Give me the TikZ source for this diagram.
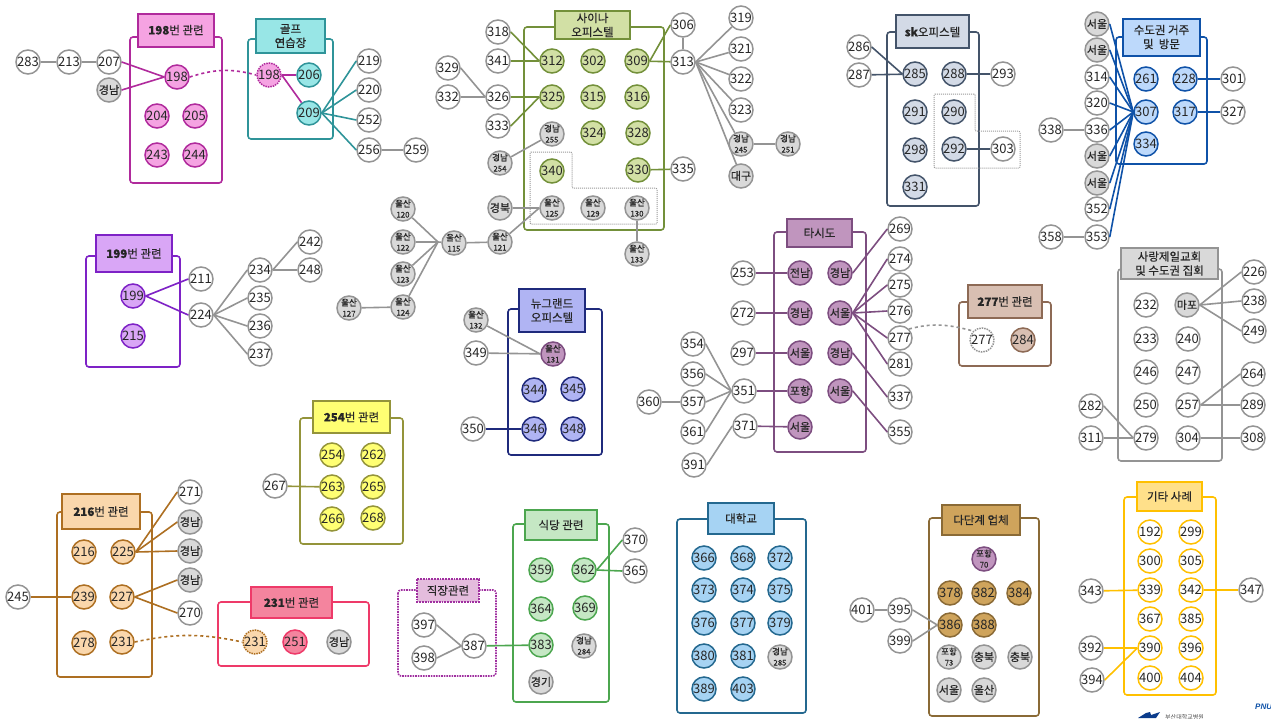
\documentclass[tikz,border=0pt]{standalone}
\usepackage{fontspec}
\setmainfont{Noto Sans CJK KR}
\newfontfamily\hvy[FakeBold=0.35]{Noto Sans CJK KR}
\newfontfamily\pnuf{Liberation Sans}
\newcommand{\NT}[1]{\makebox[0pt]{\raisebox{-.37em}[0pt][0pt]{#1}}}
\newcommand{\TW}[2]{\makebox[0pt]{\raisebox{-8.5pt}[0pt][0pt]{\shortstack{\hvy\fontsize{8.5}{8.5}\selectfont #1\\[1.5pt]\hvy\fontsize{7.8}{8}\selectfont #2}}}}
\newcommand{\N}[5]{\node[cn,#1] (#2) at (#3) {\NT{#5}};}
\newcommand{\M}[5]{\node[cn,#1] (#2) at (#3) {\TW{#4}{#5}};}
\definecolor{gl}{HTML}{949494}
\definecolor{grf}{HTML}{D9D9D9}
\definecolor{pkF}{HTML}{F5A3E2}\definecolor{pkD}{HTML}{B02A9C}
\definecolor{tlF}{HTML}{98E6E6}\definecolor{tlD}{HTML}{2F9499}
\definecolor{olF}{HTML}{D2E0A5}\definecolor{olD}{HTML}{73903A}
\definecolor{skF}{HTML}{D3DAE6}\definecolor{skD}{HTML}{44546A}
\definecolor{buF}{HTML}{BDD9FB}\definecolor{buD}{HTML}{0F52A8}
\definecolor{txF}{HTML}{C095BE}\definecolor{txD}{HTML}{7D4E80}
\definecolor{brF}{HTML}{D8BFB2}\definecolor{brD}{HTML}{8D6A55}
\definecolor{ppF}{HTML}{D9A6F6}\definecolor{ppD}{HTML}{7E22C6}
\definecolor{ngF}{HTML}{B0B4F3}\definecolor{ngD}{HTML}{1F2A7C}
\definecolor{ylF}{HTML}{FFFF73}\definecolor{ylD}{HTML}{94943A}
\definecolor{orF}{HTML}{FAD7AC}\definecolor{orD}{HTML}{AD6F22}
\definecolor{rdF}{HTML}{F4849E}\definecolor{rdD}{HTML}{EE3A69}
\definecolor{wkF}{HTML}{E4BCDD}\definecolor{wkD}{HTML}{A030A0}
\definecolor{grnF}{HTML}{C5E7C4}\definecolor{grnD}{HTML}{4CA64F}
\definecolor{unF}{HTML}{A6D3F3}\definecolor{unD}{HTML}{24688F}
\definecolor{mlF}{HTML}{CFA45C}\definecolor{mlD}{HTML}{8A6A36}
\definecolor{etF}{HTML}{FFE08A}\definecolor{etD}{HTML}{FFC000}
\definecolor{lgB}{HTML}{0B3C8C}
\tikzset{
 x=1pt,y=-1pt,
 cn/.style={circle,draw=gl,fill=white,line width=1.5pt,minimum size=24pt,inner sep=0pt,text=black!85,font=\fontsize{13}{13}\selectfont},
 wh/.style={draw=gl,fill=white},
 gr/.style={draw=gl,fill=grf,font=\hvy\fontsize{11}{11}\selectfont},
 pk/.style={draw=pkD,fill=pkF}, tl/.style={draw=tlD,fill=tlF},
 ol/.style={draw=olD,fill=olF}, sk/.style={draw=skD,fill=skF},
 bu/.style={draw=buD,fill=buF}, tx/.style={draw=txD,fill=txF,font=\hvy\fontsize{11}{11}\selectfont},
 br/.style={draw=brD,fill=brF}, pp/.style={draw=ppD,fill=ppF},
 ng/.style={draw=ngD,fill=ngF}, yl/.style={draw=ylD,fill=ylF},
 orr/.style={draw=orD,fill=orF}, rd/.style={draw=rdD,fill=rdF},
 grn/.style={draw=grnD,fill=grnF}, un/.style={draw=unD,fill=unF},
 ml/.style={draw=mlD,fill=mlF}, et/.style={draw=etD,fill=white},
 dot/.style={densely dotted},
 frame/.style={draw=#1,line width=1.6pt,rounded corners=3pt,fill=white},
 ttl/.style={rectangle,line width=1.8pt,inner sep=0pt,align=center,text=black!85,font=\hvy\fontsize{11.5}{14}\selectfont},
 gline/.style={draw=gl,line width=1.6pt},
 cline/.style={draw=#1,line width=1.6pt},
 dotreg/.style={draw=gray!80,line width=1pt,densely dotted},
}
\begin{document}
\begin{tikzpicture}
\useasboundingbox (0,0) rectangle (1271,718);
\clip (0,0) rectangle (1271,718);
\newcommand{\FR}[6]{\draw[frame=#1,#6] (#2,#3) rectangle (#4,#5);}
\newcommand{\TB}[7][]{\path[ttl,draw=#2,fill=#3,#1] (#4,#5) rectangle (#6,#7);}
\newcommand{\TL}[4]{\node[ttl] (#1) at (#2,#3) {#4};}
% frames and titles
\FR{pkD}{130}{37}{222}{183}{}\TB{pkD}{pkF}{138}{14}{214}{47}\TL{t198}{176}{30}{\textbf{198}번 관련}
\FR{tlD}{248}{39}{333}{139}{}\TB{tlD}{tlF}{256}{19}{325}{53}\TL{tgolf}{290.5}{36}{골프\\연습장}
\FR{olD}{524}{27}{664}{230}{}\TB{olD}{olF}{555}{11}{630}{39}\TL{tsaina}{592.5}{25}{사이나\\오피스텔}
\FR{skD}{887}{32}{979}{206}{}\TB{skD}{skF}{896}{15}{969}{48}\TL{tsk}{932.5}{32}{\textbf{sk}오피스텔}
\FR{buD}{1116}{37}{1207}{164}{}\TB{buD}{buF}{1123}{19}{1200}{56}\TL{tsudo}{1161.5}{37}{수도권 거주\\및 ~방문}
\FR{txD}{774}{232}{866}{452}{}\TB{txD}{txF}{787}{219}{852}{247}\TL{ttaxi}{819.5}{233}{타시도}
\FR{brD}{959}{302}{1051}{366}{}\TB{brD}{brF}{968}{285}{1042}{318}\TL{t277}{1005}{301.5}{\textbf{277}번 관련}
\FR{gl}{1118}{269}{1222}{461}{}\TB{gl}{grf}{1121}{248}{1218}{279}\TL{tchurch}{1169.5}{263.5}{사랑제일교회\\및 수도권 집회}
\FR{ppD}{86}{256}{180}{367}{}\TB{ppD}{ppF}{96}{235}{172}{272}\TL{t199}{134}{253.5}{\textbf{199}번 관련}
\FR{ngD}{508}{309}{602}{455}{}\TB{ngD}{ngF}{519}{289}{585}{332}\TL{tng}{552}{310.5}{뉴그랜드\\오피스텔}
\FR{ylD}{300}{418}{403}{544}{}\TB{ylD}{ylF}{313}{401}{390}{433}\TL{t254}{351.5}{417}{\textbf{254}번 관련}
\FR{orD}{57}{512}{152}{677}{}\TB{orD}{orF}{62}{494}{140}{529}\TL{t216}{101}{511.5}{\textbf{216}번 관련}
\FR{rdD}{218}{602}{369}{666}{}\TB{rdD}{rdF}{251}{587}{332}{618}\TL{t231}{291.5}{602.5}{\textbf{231}번 관련}
\FR{wkD}{398}{590}{496}{676}{dot}\TB[dot]{wkD}{wkF}{417}{579}{479}{602}\TL{twk}{448}{590.5}{직장관련}
\FR{grnD}{513}{524}{609}{702}{}\TB{grnD}{grnF}{525}{510}{597}{540}\TL{tfood}{561}{525}{식당 관련}
\FR{unD}{677}{519}{806}{713}{}\TB{unD}{unF}{708}{503}{774}{534}\TL{tuni}{741}{518.5}{대학교}
\FR{mlD}{929}{518}{1039}{716}{}\TB{mlD}{mlF}{942}{505}{1020}{535}\TL{tml}{981}{520}{다단계 업체}
\FR{etD}{1124}{497}{1216}{695}{}\TB{etD}{etF}{1137}{482}{1202}{511}\TL{tet}{1169.5}{496.5}{기타 사례}
% dotted regions
\draw[dotreg,rounded corners=1pt] (530,152)--(572,152)--(572,188)--(657,188)--(657,224)--(530,224)--cycle;
\draw[dotreg,rounded corners=1pt] (934,94)--(975,94)--(975,131)--(1020,131)--(1020,168)--(934,168)--cycle;
% nodes: 198 group
\N{wh}{a283}{28,62}{}{283}\N{wh}{a213}{69,62}{}{213}\N{wh}{a207}{109,62}{}{207}\N{gr}{aGN}{109,90}{}{경남}
\N{pk}{a198}{177,77}{}{198}\N{pk}{a204}{157,116}{}{204}\N{pk}{a205}{195,116}{}{205}\N{pk}{a243}{157,155}{}{243}\N{pk}{a244}{195,155}{}{244}
% golf
\N{pk,dot}{b198}{269,75}{}{198}\N{tl}{b206}{309,75}{}{206}\N{tl}{b209}{309,113}{}{209}
\N{wh}{b219}{369,61}{}{219}\N{wh}{b220}{369,90}{}{220}\N{wh}{b252}{369,120}{}{252}\N{wh}{b256}{369,150}{}{256}\N{wh}{b259}{416,150}{}{259}
% ulsan
\M{gr}{u120}{403,209}{울산}{120}\M{gr}{u122}{403,242}{울산}{122}\M{gr}{u123}{403,274}{울산}{123}\M{gr}{u124}{403,307}{울산}{124}\M{gr}{u127}{349,308}{울산}{127}
\M{gr}{u115}{454,243}{울산}{115}\M{gr}{u121}{500,242}{울산}{121}
\M{gr}{u125}{552,208}{울산}{125}\M{gr}{u129}{593,208}{울산}{129}\M{gr}{u130}{637,208}{울산}{130}\M{gr}{u133}{637,254}{울산}{133}
\N{gr}{cGB}{500,208}{}{경북}
% saina
\N{wh}{c318}{498,32}{}{318}\N{wh}{c341}{498,61}{}{341}\N{wh}{c329}{448,68}{}{329}\N{wh}{c332}{448,97}{}{332}\N{wh}{c326}{498,97}{}{326}\N{wh}{c333}{498,126}{}{333}
\M{gr}{c254}{500,163}{경남}{254}\M{gr}{c255}{552,134}{경남}{255}
\N{ol}{c312}{552,61}{}{312}\N{ol}{c302}{593,61}{}{302}\N{ol}{c309}{637,61}{}{309}
\N{ol}{c325}{552,97}{}{325}\N{ol}{c315}{593,97}{}{315}\N{ol}{c316}{637,97}{}{316}
\N{ol}{c324}{593,133}{}{324}\N{ol}{c328}{638,133}{}{328}\N{ol}{c340}{552,171}{}{340}\N{ol}{c330}{638,170}{}{330}
\N{wh}{c335}{683,169}{}{335}\N{wh}{c306}{683,25}{}{306}\N{wh}{c313}{683,62}{}{313}
\N{wh}{c319}{741,18}{}{319}\N{wh}{c321}{741,49}{}{321}\N{wh}{c322}{741,79}{}{322}\N{wh}{c323}{741,110}{}{323}
\M{gr}{c245}{741,144}{경남}{245}\M{gr}{c251}{788,144}{경남}{251}\N{gr}{cDG}{741,176}{}{대구}
% sk
\N{wh}{d286}{859,47}{}{286}\N{wh}{d287}{859,75}{}{287}\N{sk}{d285}{915,74}{}{285}\N{sk}{d288}{954,74}{}{288}\N{wh}{d293}{1003,74}{}{293}
\N{sk}{d291}{915,112}{}{291}\N{sk}{d290}{954,112}{}{290}\N{sk}{d298}{915,150}{}{298}\N{sk}{d292}{954,149}{}{292}\N{wh}{d303}{1003,149}{}{303}\N{sk}{d331}{915,187}{}{331}
% sudo
\N{gr}{eS1}{1097,24}{}{서울}\N{gr}{eS2}{1097,50}{}{서울}\N{wh}{e314}{1097,77}{}{314}\N{wh}{e320}{1097,103}{}{320}\N{wh}{e336}{1097,130}{}{336}\N{wh}{e338}{1051,130}{}{338}
\N{gr}{eS3}{1097,156}{}{서울}\N{gr}{eS4}{1097,183}{}{서울}\N{wh}{e352}{1097,209}{}{352}\N{wh}{e353}{1097,237}{}{353}\N{wh}{e358}{1051,237}{}{358}
\N{bu}{e261}{1146,79}{}{261}\N{bu}{e228}{1185,79}{}{228}\N{wh}{e301}{1233,79}{}{301}\N{bu}{e307}{1146,112}{}{307}\N{bu}{e317}{1185,112}{}{317}\N{wh}{e327}{1233,112}{}{327}\N{bu}{e334}{1146,144}{}{334}
% taxi
\N{tx}{f1}{800,273}{}{전남}\N{tx}{f2}{840,273}{}{경남}\N{tx}{f3}{800,313}{}{경남}\N{tx}{f4}{840,313}{}{서울}\N{tx}{f5}{800,353}{}{서울}\N{tx}{f6}{840,353}{}{경남}\N{tx}{f7}{800,391}{}{포항}\N{tx}{f8}{840,391}{}{서울}\N{tx}{f9}{800,427}{}{서울}
\N{wh}{f253}{743,273}{}{253}\N{wh}{f272}{743,313}{}{272}\N{wh}{f297}{743,353}{}{297}\N{wh}{f351}{744,391}{}{351}\N{wh}{f371}{745,426}{}{371}
\N{wh}{f354}{693,344}{}{354}\N{wh}{f356}{693,374}{}{356}\N{wh}{f357}{693,402}{}{357}\N{wh}{f360}{649,402}{}{360}\N{wh}{f361}{693,432}{}{361}\N{wh}{f391}{694,465}{}{391}
\N{wh}{f269}{900,229}{}{269}\N{wh}{f274}{900,259}{}{274}\N{wh}{f275}{900,285}{}{275}\N{wh}{f276}{900,311}{}{276}\N{wh}{f277}{900,338}{}{277}\N{wh}{f281}{900,364}{}{281}\N{wh}{f337}{900,397}{}{337}\N{wh}{f355}{900,432}{}{355}
% 277
\N{wh,dot}{g277}{982,340}{}{277}\N{br}{g284}{1023,340}{}{284}
% church
\N{wh}{h232}{1146,305}{}{232}\N{gr}{hMP}{1187,305}{}{마포}\N{wh}{h233}{1146,339}{}{233}\N{wh}{h240}{1188,339}{}{240}\N{wh}{h246}{1146,372}{}{246}\N{wh}{h247}{1188,372}{}{247}\N{wh}{h250}{1146,405}{}{250}\N{wh}{h257}{1188,405}{}{257}\N{wh}{h279}{1146,438}{}{279}\N{wh}{h304}{1188,438}{}{304}
\N{wh}{h282}{1091,406}{}{282}\N{wh}{h311}{1091,438}{}{311}\N{wh}{h226}{1254,272}{}{226}\N{wh}{h238}{1254,301}{}{238}\N{wh}{h249}{1254,331}{}{249}\N{wh}{h264}{1253,374}{}{264}\N{wh}{h289}{1253,405}{}{289}\N{wh}{h308}{1253,438}{}{308}
% 199
\N{pp}{i199}{133,296}{}{199}\N{pp}{i215}{133,336}{}{215}\N{wh}{i211}{201,279}{}{211}\N{wh}{i224}{201,315}{}{224}\N{wh}{i234}{260,270}{}{234}\N{wh}{i235}{260,298}{}{235}\N{wh}{i236}{260,326}{}{236}\N{wh}{i237}{260,354}{}{237}\N{wh}{i242}{310,242}{}{242}\N{wh}{i248}{310,270}{}{248}
% new grand
\M{gr}{j132}{476,320}{울산}{132}\N{wh}{j349}{476,353}{}{349}\M{tx}{j131}{553,354}{울산}{131}\N{ng}{j344}{534,390}{}{344}\N{ng}{j345}{573,389}{}{345}\N{wh}{j350}{473,429}{}{350}\N{ng}{j346}{534,429}{}{346}\N{ng}{j348}{573,429}{}{348}
% 254
\N{yl}{k254}{332,455}{}{254}\N{yl}{k262}{373,455}{}{262}\N{yl}{k263}{332,487}{}{263}\N{yl}{k265}{373,487}{}{265}\N{yl}{k266}{332,519}{}{266}\N{yl}{k268}{373,518}{}{268}\N{wh}{k267}{275,486}{}{267}
% 216
\N{orr}{l216}{84,552}{}{216}\N{orr}{l225}{123,552}{}{225}\N{orr}{l239}{84,597}{}{239}\N{orr}{l227}{122,597}{}{227}\N{orr}{l278}{84,643}{}{278}\N{orr}{l231}{122,642}{}{231}
\N{wh}{l245}{18,597}{}{245}\N{wh}{l271}{190,492}{}{271}\N{gr}{lG1}{190,522}{}{경남}\N{gr}{lG2}{190,551}{}{경남}\N{gr}{lG3}{190,580}{}{경남}\N{wh}{l270}{190,613}{}{270}
% 231
\N{orr,dot}{m231}{255,642}{}{231}\N{rd}{m251}{295,642}{}{251}\N{gr}{mGN}{339,642}{}{경남}
% workplace
\N{wh}{n397}{424,625}{}{397}\N{wh}{n398}{424,658}{}{398}\N{wh}{n387}{474,646}{}{387}
% food
\N{grn}{o359}{541,570}{}{359}\N{grn}{o362}{584,570}{}{362}\N{grn}{o364}{541,609}{}{364}\N{grn}{o369}{585,608}{}{369}\N{grn}{o383}{541,645}{}{383}\M{gr}{o284}{584,646}{경남}{284}\N{gr}{oGG}{541,682}{}{경기}\N{wh}{o370}{635,540}{}{370}\N{wh}{o365}{635,571}{}{365}
% univ
\N{un}{p366}{704,558}{}{366}\N{un}{p368}{743,558}{}{368}\N{un}{p372}{780,558}{}{372}
\N{un}{p373}{704,590}{}{373}\N{un}{p374}{743,590}{}{374}\N{un}{p375}{780,590}{}{375}
\N{un}{p376}{704,623}{}{376}\N{un}{p377}{743,623}{}{377}\N{un}{p379}{780,623}{}{379}
\N{un}{p380}{704,656}{}{380}\N{un}{p381}{743,656}{}{381}\M{gr}{p285}{780,657}{경남}{285}
\N{un}{p389}{704,689}{}{389}\N{un}{p403}{743,689}{}{403}
% multilevel
\M{tx}{q70}{984,559}{포항}{70}\N{ml}{q378}{950,593}{}{378}\N{ml}{q382}{984,593}{}{382}\N{ml}{q384}{1019,593}{}{384}\N{ml}{q386}{950,625}{}{386}\N{ml}{q388}{984,625}{}{388}
\M{gr}{q73}{949,657}{포항}{73}\N{gr}{qCB1}{984,657}{}{충북}\N{gr}{qCB2}{1020,657}{}{충북}\N{gr}{qSE}{949,690}{}{서울}\N{gr}{qUS}{984,690}{}{울산}
\N{wh}{q401}{862,610}{}{401}\N{wh}{q395}{900,610}{}{395}\N{wh}{q399}{900,641}{}{399}
% etc
\N{et}{r192}{1150,532}{}{192}\N{et}{r299}{1191,532}{}{299}\N{et}{r300}{1150,561}{}{300}\N{et}{r305}{1191,561}{}{305}\N{et}{r339}{1150,590}{}{339}\N{et}{r342}{1191,590}{}{342}\N{et}{r367}{1150,619}{}{367}\N{et}{r385}{1191,619}{}{385}\N{et}{r390}{1150,648}{}{390}\N{et}{r396}{1191,648}{}{396}\N{et}{r400}{1150,678}{}{400}\N{et}{r404}{1191,678}{}{404}
\N{wh}{r343}{1091,591}{}{343}\N{wh}{r347}{1251,590}{}{347}\N{wh}{r392}{1091,648}{}{392}\N{wh}{r394}{1092,680}{}{394}
% connectors
\draw[gline] (a283)--(a213); \draw[gline] (a213)--(a207);
\draw[cline=pkD] (a207.east)--(a198.west); \draw[cline=pkD] (aGN.east)--(a198.west);
\draw[cline=pkD,dashed] (a198.east) to[out=18,in=165] (b198.west);
\draw[cline=pkD] (b198)--(b206); \draw[cline=pkD] (b198.east)--(b209);
\foreach \t in {b219,b220,b252,b256} \draw[cline=tlD] (b209.east)--(\t.west);
\draw[gline] (b256)--(b259);
\coordinate (j115) at (438,242);
\foreach \t in {u120,u122,u123,u124} \draw[gline] (\t)--(j115);
\draw[gline] (j115)--(u115); \draw[gline] (u127)--(u124); \draw[gline] (u115)--(u121);
\draw[gline] (u121)--(u125.west); \draw[gline] (cGB)--(u125.west); \draw[gline] (u130)--(u133);
\draw[cline=olD] (c318.east)--(c312.west); \draw[cline=olD] (c341)--(c312);
\draw[gline] (c329.east)--(c326.west); \draw[gline] (c332)--(c326);
\draw[cline=olD] (c326)--(c325); \draw[cline=olD] (c333.east)--(c325.west);
\draw[gline] (c254)--(c255);
\draw[cline=olD] (c309.east)--(c306.west); \draw[cline=olD] (c309)--(c313); \draw[gline] (c306)--(c313);
\draw[cline=olD] (c330)--(c335);
\foreach \t in {c319,c321,c322,c323,c245,cDG} \draw[gline] (c313.east)--(\t);
\draw[gline] (c245)--(c251);
\draw[cline=skD] (d286.east)--(d285.west); \draw[cline=skD] (d287)--(d285); \draw[cline=skD] (d288)--(d293); \draw[cline=skD] (d292)--(d303);
\foreach \t in {eS1,eS2,e314,e320,e336,eS3,eS4,e352,e353} \draw[cline=buD] (\t.east)--(e307.west);
\draw[gline] (e338)--(e336); \draw[gline] (e358)--(e353);
\draw[cline=buD] (e228)--(e301); \draw[cline=buD] (e317)--(e327);
\draw[cline=txD] (f253)--(f1); \draw[cline=txD] (f272)--(f3); \draw[cline=txD] (f297)--(f5); \draw[cline=txD] (f351)--(f7); \draw[cline=txD] (f371)--(f9);
\foreach \t in {f354,f356,f357,f361} \draw[gline] (\t.east)--(f351.west);
\draw[gline] (f360)--(f357); \draw[gline] (f391.east)--(f371.west);
\draw[cline=txD] (f2.east)--(f269.west);
\foreach \t in {f274,f275,f276,f277,f281} \draw[cline=txD] (f4.east)--(\t.west);
\draw[cline=txD] (f6.east)--(f337.west); \draw[cline=txD] (f8.east)--(f355.west);
\draw[gline,dashed] (f277.north east) to[out=15,in=165] (g277.north west);
\foreach \t in {h226,h238,h249} \draw[gline] (hMP.east)--(\t.west);
\foreach \t in {h264,h289} \draw[gline] (h257.east)--(\t.west);
\draw[gline] (h304)--(h308); \draw[gline] (h282.east)--(h279.west); \draw[gline] (h311)--(h279);
\draw[cline=ppD] (i199.east)--(i211.west); \draw[cline=ppD] (i199.east)--(i224.west);
\foreach \t in {i234,i235,i236,i237} \draw[gline] (i224.east)--(\t.west);
\foreach \t in {i242,i248} \draw[gline] (i234.east)--(\t.west);
\draw[gline] (j132)--(j131.west); \draw[gline] (j349)--(j131); \draw[cline=ngD] (j350)--(j346);
\draw[cline=ylD] (k267)--(k263);
\draw[cline=orD] (l245)--(l239);
\foreach \t in {l271,lG1,lG2} \draw[cline=orD] (l225.east)--(\t.west);
\foreach \t in {lG3,l270} \draw[cline=orD] (l227.east)--(\t.west);
\draw[cline=orD,dashed] (l231.east) to[out=12,in=168] (m231.west);
\draw[gline] (n397.east)--(n387.west); \draw[gline] (n398.east)--(n387.west);
\draw[cline=grnD] (n387)--(o383);
\draw[cline=grnD] (o362.east)--(o370.west); \draw[cline=grnD] (o362.east)--(o365.west);
\draw[gline] (q401)--(q395); \draw[gline] (q395.east)--(q386.west); \draw[gline] (q399.east)--(q386.west);
\draw[cline=etD] (r343)--(r339); \draw[cline=etD] (r342)--(r347); \draw[cline=etD] (r392)--(r390); \draw[cline=etD] (r394.east)--(r390.west);
% logos at the bottom edge
\fill[lgB] (1138,718)--(1146,713)--(1150,712)--(1151,715)--(1160,712)--(1156,718)--cycle;
\node[inner sep=0pt,anchor=west,text=black!70,font=\fontsize{6}{6}\selectfont] (lgt) at (1165,717.5) {부산대학교병원};
\node[inner sep=0pt,anchor=west,text=buD,font=\pnuf\bfseries\itshape\fontsize{8}{8}\selectfont] (lgp) at (1255,706.5) {PNU};
\end{tikzpicture}
\end{document}
